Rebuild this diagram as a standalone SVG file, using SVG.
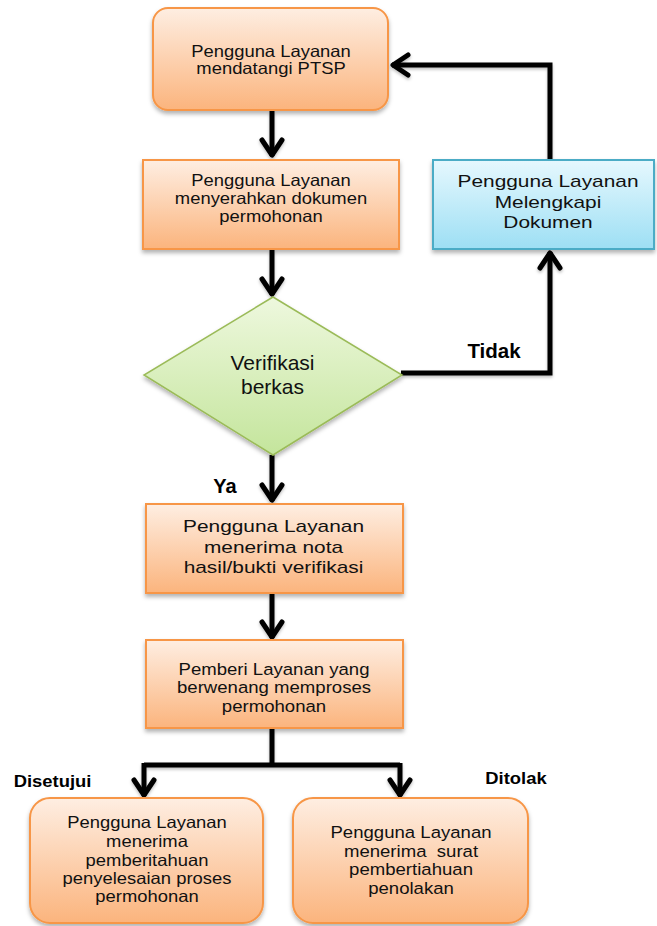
<svg xmlns="http://www.w3.org/2000/svg" width="657" height="926" viewBox="0 0 657 926">
<defs>
<linearGradient id="gOr" x1="0" y1="0" x2="0" y2="1">
<stop offset="0" stop-color="#feeee2"/>
<stop offset="1" stop-color="#fbb47d"/>
</linearGradient>
<linearGradient id="gBl" x1="0" y1="0" x2="0" y2="1">
<stop offset="0" stop-color="#e6f8fe"/>
<stop offset="1" stop-color="#9ddff4"/>
</linearGradient>
<linearGradient id="gGr" x1="0" y1="0" x2="0" y2="1">
<stop offset="0" stop-color="#eef8de"/>
<stop offset="1" stop-color="#c4e59c"/>
</linearGradient>
<filter id="sh" x="-10%" y="-10%" width="120%" height="130%">
<feDropShadow dx="0" dy="3" stdDeviation="2" flood-color="#000" flood-opacity="0.3"/>
</filter>
<filter id="lsh" x="-20%" y="-20%" width="140%" height="140%">
<feDropShadow dx="0" dy="2" stdDeviation="1.5" flood-color="#000" flood-opacity="0.25"/>
</filter>
<marker id="chev" markerUnits="userSpaceOnUse" markerWidth="40" markerHeight="40" viewBox="-20 -20 40 40" refX="0" refY="0" orient="auto" overflow="visible">
<path d="M-16,-10 L-1,0 L-16,10" fill="none" stroke="#000" stroke-width="5" stroke-linecap="round" stroke-linejoin="round"/>
</marker>
</defs>
<style>
.or{fill:url(#gOr);stroke:#f79646;stroke-width:2;filter:url(#sh)}
.bl{fill:url(#gBl);stroke:#4bacc6;stroke-width:2;filter:url(#sh)}
.gr{fill:url(#gGr);stroke:#9bbb59;stroke-width:1.5;filter:url(#sh)}
.t{font-family:"Liberation Sans",Arial,sans-serif;fill:#111;text-anchor:middle}
.s16{font-size:16.3px}
.s17{font-size:17.4px}
.s21{font-size:21px}
.lb{font-family:"Liberation Sans",Arial,sans-serif;font-weight:bold;fill:#000;text-anchor:middle}
.cn{fill:none;stroke:#000;stroke-width:5;stroke-linejoin:miter}
</style>
<rect width="657" height="926" fill="#fff"/>
<g id="connectors" filter="url(#lsh)">
<line class="cn" x1="272" y1="111" x2="272" y2="156" marker-end="url(#chev)"/>
<line class="cn" x1="272" y1="250" x2="272" y2="295" marker-end="url(#chev)"/>
<line class="cn" x1="272" y1="455" x2="272" y2="501" marker-end="url(#chev)"/>
<line class="cn" x1="272" y1="594" x2="272" y2="638" marker-end="url(#chev)"/>
<polyline class="cn" points="272,729 272,765"/>
<polyline class="cn" points="144,765 400,765"/>
<polyline class="cn" points="144,763 144,796" marker-end="url(#chev)"/>
<polyline class="cn" points="400,763 400,796" marker-end="url(#chev)"/>
<polyline class="cn" points="401,373 550,373 550,252" marker-end="url(#chev)"/>
<polyline class="cn" points="550,160 550,65 392,65" marker-end="url(#chev)"/>
</g>
<g id="n1">
<rect class="or" x="153" y="8" width="235" height="102" rx="15"/>
<text class="t s16" transform="translate(271,0) scale(1.13,1)"><tspan x="0" y="57">Pengguna Layanan</tspan><tspan x="0" y="74">mendatangi PTSP</tspan></text>
</g>
<g id="n2">
<rect class="or" x="143" y="160" width="256" height="89"/>
<text class="t s16" transform="translate(271,0) scale(1.13,1)"><tspan x="0" y="186">Pengguna Layanan</tspan><tspan x="0" y="204">menyerahkan dokumen</tspan><tspan x="0" y="222">permohonan</tspan></text>
</g>
<g id="n3">
<rect class="bl" x="433" y="160" width="221" height="89"/>
<text class="t s17" transform="translate(548,0) scale(1.2,1)"><tspan x="0" y="187">Pengguna Layanan</tspan><tspan x="0" y="208">Melengkapi</tspan><tspan x="0" y="228">Dokumen</tspan></text>
</g>
<g id="n4">
<polygon class="gr" points="273,297 402,375 273,455 144,375"/>
<text class="t s21"><tspan x="272.5" y="370">Verifikasi</tspan><tspan x="272.5" y="394">berkas</tspan></text>
</g>
<g id="n5">
<rect class="or" x="146" y="504" width="257" height="89"/>
<text class="t s17" transform="translate(273.5,0) scale(1.2,1)"><tspan x="0" y="532">Pengguna Layanan</tspan><tspan x="0" y="553">menerima nota</tspan><tspan x="0" y="573">hasil/bukti verifikasi</tspan></text>
</g>
<g id="n6">
<rect class="or" x="146" y="640" width="257" height="88"/>
<text class="t s16" transform="translate(274,0) scale(1.14,1)"><tspan x="0" y="675">Pemberi Layanan yang</tspan><tspan x="0" y="693">berwenang memproses</tspan><tspan x="0" y="712">permohonan</tspan></text>
</g>
<g id="n7">
<rect class="or" x="30" y="798" width="233" height="125" rx="20"/>
<text class="t s16" transform="translate(147,0) scale(1.13,1)"><tspan x="0" y="828">Pengguna Layanan</tspan><tspan x="0" y="847">menerima</tspan><tspan x="0" y="866">pemberitahuan</tspan><tspan x="0" y="884">penyelesaian proses</tspan><tspan x="0" y="902">permohonan</tspan></text>
</g>
<g id="n8">
<rect class="or" x="293" y="798" width="235" height="125" rx="20"/>
<text class="t s16" transform="translate(411,0) scale(1.14,1)" xml:space="preserve"><tspan x="0" y="838">Pengguna Layanan</tspan><tspan x="0" y="857">menerima  surat</tspan><tspan x="0" y="875">pembertiahuan</tspan><tspan x="0" y="894">penolakan</tspan></text>
</g>
<g id="labels">
<text class="lb" x="494" y="358" font-size="20.5">Tidak</text>
<text class="lb" x="225" y="493" font-size="20">Ya</text>
<text class="lb" transform="translate(52.5,0) scale(1.13,1)" x="0" y="787" font-size="16.3">Disetujui</text>
<text class="lb" transform="translate(516,0) scale(1.13,1)" x="0" y="784" font-size="16.3">Ditolak</text>
</g>
</svg>
